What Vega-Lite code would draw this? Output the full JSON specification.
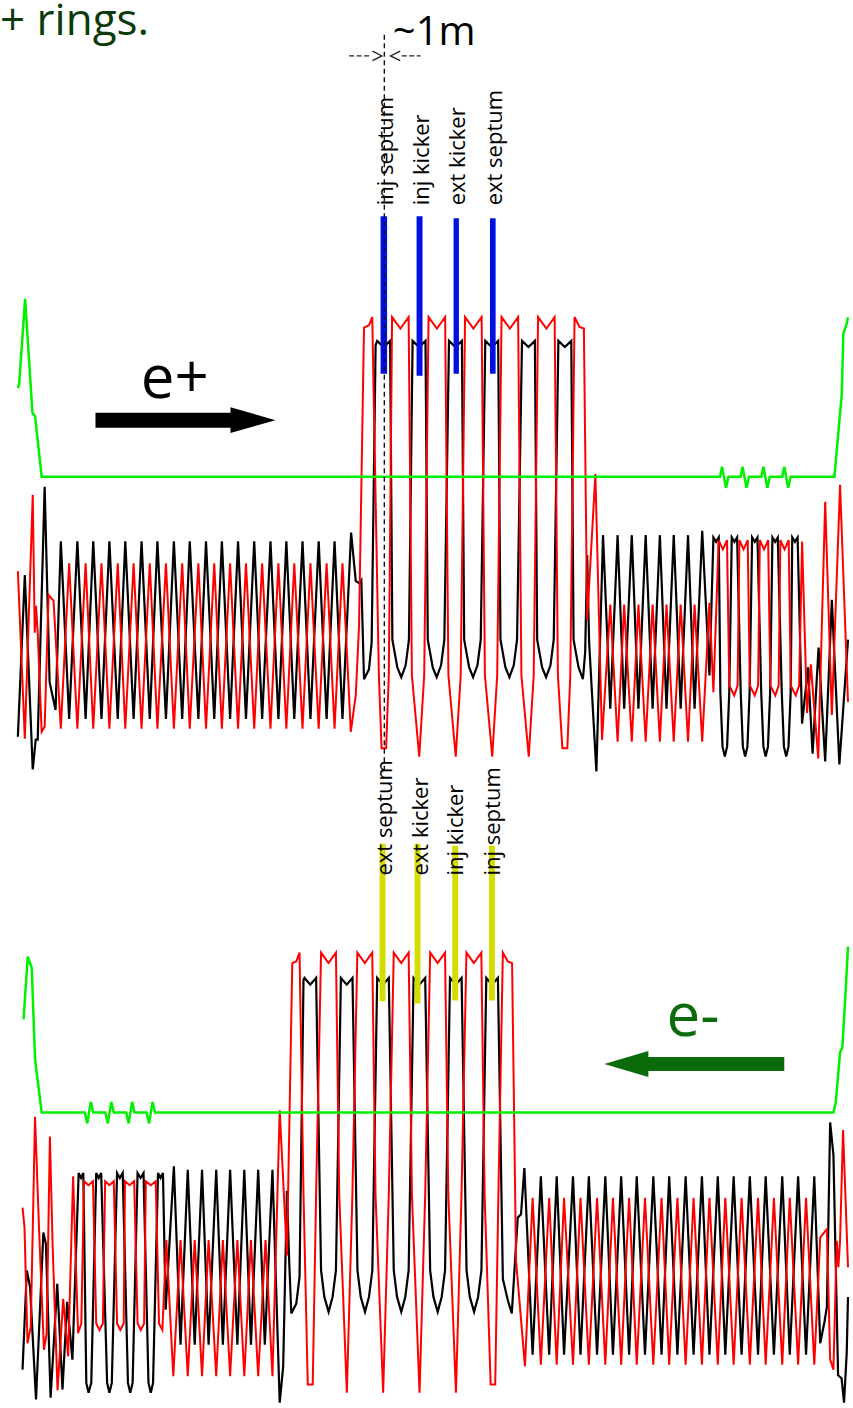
{
"$schema": "https://vega.github.io/schema/vega-lite/v6.json",
"width": 853, "height": 1408,
"autosize": {"type": "fit", "contains": "padding"},
"padding": 0,
"background": "white",
"config": {"view": {"stroke": null}},
"datasets": {
"blackP": [{"s":16,"v":735},{"s":23,"v":572},{"s":31,"v":768},{"s":34,"v":738},{"s":36,"v":738},{"s":43,"v":483},{"s":48,"v":680},{"s":54,"v":708},{"s":59.3,"v":538},{"s":67.7,"v":717},{"s":76,"v":538},{"s":84.3,"v":717},{"s":92,"v":538},{"s":100.3,"v":717},{"s":108.3,"v":538},{"s":116.7,"v":717},{"s":124.3,"v":538},{"s":132.7,"v":717},{"s":140.7,"v":538},{"s":149,"v":717},{"s":156.7,"v":538},{"s":165.3,"v":717},{"s":173.3,"v":538},{"s":181.7,"v":717},{"s":189.3,"v":538},{"s":198,"v":717},{"s":205.7,"v":538},{"s":214,"v":717},{"s":221.7,"v":538},{"s":230,"v":717},{"s":238,"v":538},{"s":246,"v":717},{"s":254.3,"v":538},{"s":262.3,"v":717},{"s":270.7,"v":538},{"s":278.7,"v":717},{"s":286.7,"v":538},{"s":294.7,"v":717},{"s":303,"v":538},{"s":311,"v":717},{"s":319.3,"v":538},{"s":327.3,"v":717},{"s":335.3,"v":538},{"s":343.3,"v":717},{"s":352,"v":529},{"s":356.7,"v":578},{"s":360,"v":580},{"s":362.3,"v":577},{"s":365,"v":677},{"s":370,"v":667},{"s":372.7,"v":640},{"s":376.7,"v":340},
{"s":378.3,"v":335.7},{"s":384.8,"v":342},{"s":391.3,"v":335.7},{"s":393.6,"v":637},{"s":398.6,"v":665},{"s":402.6,"v":675},{"s":407,"v":663},{"s":410.3,"v":637},
{"s":414,"v":335.7},{"s":420.5,"v":342},{"s":427,"v":335.7},{"s":429.3,"v":637},{"s":434.3,"v":665},{"s":438.3,"v":675},{"s":442.7,"v":663},{"s":446,"v":637},
{"s":450.7,"v":335.7},{"s":457.2,"v":342},{"s":463.7,"v":335.7},{"s":466,"v":637},{"s":471,"v":665},{"s":475,"v":675},{"s":479.4,"v":663},{"s":482.7,"v":637},
{"s":487.3,"v":335.7},{"s":493.8,"v":342},{"s":500.3,"v":335.7},{"s":502.6,"v":637},{"s":507.6,"v":665},{"s":511.6,"v":675},{"s":516,"v":663},{"s":519.3,"v":637},
{"s":524.3,"v":335.7},{"s":530.8,"v":342},{"s":537.3,"v":335.7},{"s":539.6,"v":637},{"s":544.6,"v":665},{"s":548.6,"v":675},{"s":553,"v":663},{"s":556.3,"v":637},
{"s":561,"v":335.7},{"s":567.5,"v":342},{"s":574,"v":335.7},{"s":576.3,"v":637},{"s":581.3,"v":665},{"s":585.7,"v":677},{"s":588,"v":650},{"s":590,"v":552},{"s":592,"v":640},{"s":599.3,"v":770},
{"s":606,"v":531.7},{"s":613.3,"v":706.7},{"s":620.7,"v":531.7},{"s":627.3,"v":706.7},{"s":635,"v":531.7},{"s":641.7,"v":706.7},{"s":649,"v":531.7},{"s":656,"v":706.7},{"s":663.3,"v":531.7},{"s":670,"v":706.7},{"s":677.3,"v":531.7},{"s":684.3,"v":706.7},{"s":691.7,"v":531.7},{"s":698.3,"v":706.7},{"s":706,"v":527.3},{"s":713.3,"v":673.3},
{"s":717.3,"v":534},{"s":720,"v":538.5},{"s":722.7,"v":534},{"s":724.3,"v":690},{"s":726.5,"v":745},{"s":728.8,"v":755},{"s":731.1,"v":745},{"s":733.3,"v":690},
{"s":735.8,"v":534},{"s":738.5,"v":538.5},{"s":741.2,"v":534},{"s":744.8,"v":690},{"s":747,"v":745},{"s":749.3,"v":755},{"s":751.6,"v":745},{"s":753.8,"v":690},
{"s":756.3,"v":534},{"s":759,"v":538.5},{"s":761.7,"v":534},{"s":765.5,"v":690},{"s":767.7,"v":745},{"s":770,"v":755},{"s":772.3,"v":745},{"s":774.5,"v":690},
{"s":776.8,"v":534},{"s":779.5,"v":538.5},{"s":782.2,"v":534},{"s":786.2,"v":690},{"s":788.4,"v":745},{"s":790.7,"v":755},{"s":793,"v":745},{"s":795.2,"v":690},
{"s":796.8,"v":534},{"s":799.5,"v":538.5},{"s":802.2,"v":534},{"s":806.7,"v":721.7},{"s":812.7,"v":665},{"s":817.3,"v":752},{"s":823.3,"v":645},{"s":830,"v":760},{"s":836.7,"v":597},{"s":844.3,"v":763},{"s":853,"v":637}],
"redP": [{"s":16,"v":568},{"s":23,"v":737},{"s":31,"v":491},{"s":33,"v":630},{"s":34.3,"v":603},{"s":36,"v":630},{"s":40,"v":730},{"s":43,"v":725},{"s":47,"v":592},{"s":52,"v":598},{"s":59.3,"v":727},{"s":67.7,"v":560},{"s":76,"v":727},{"s":84.3,"v":560},{"s":92,"v":727},{"s":100.3,"v":560},{"s":108.3,"v":727},{"s":116.7,"v":560},{"s":124.3,"v":727},{"s":132.7,"v":560},{"s":140.7,"v":727},{"s":149,"v":560},{"s":156.7,"v":727},{"s":165.3,"v":560},{"s":173.3,"v":727},{"s":181.7,"v":560},{"s":189.3,"v":727},{"s":198,"v":560},{"s":205.7,"v":727},{"s":214,"v":560},{"s":221.7,"v":727},{"s":230,"v":560},{"s":238,"v":727},{"s":246,"v":560},{"s":254.3,"v":727},{"s":262.3,"v":560},{"s":270.7,"v":727},{"s":278.7,"v":560},{"s":286.7,"v":727},{"s":294.7,"v":560},{"s":303,"v":727},{"s":311,"v":560},{"s":319.3,"v":727},{"s":327.3,"v":560},{"s":335.3,"v":727},{"s":343.3,"v":560},{"s":351.7,"v":730},{"s":356.7,"v":693},{"s":360,"v":623},{"s":365,"v":322.3},{"s":370,"v":320},{"s":373.3,"v":311.7},{"s":380,"v":673},{"s":382.7,"v":746.7},{"s":387.3,"v":746.7},{"s":390,"v":673},
{"s":393.3,"v":311.7},{"s":401.7,"v":323.3},{"s":410,"v":311.7},{"s":413.3,"v":673},{"s":420.7,"v":755},{"s":425.7,"v":673},
{"s":430.1,"v":311.7},{"s":438.5,"v":323.3},{"s":446.8,"v":311.7},{"s":450.1,"v":673},{"s":457.5,"v":755},{"s":462.5,"v":673},
{"s":466.9,"v":311.7},{"s":475.3,"v":323.3},{"s":483.6,"v":311.7},{"s":486.9,"v":673},{"s":494.3,"v":755},{"s":499.3,"v":673},
{"s":503.7,"v":311.7},{"s":512.1,"v":323.3},{"s":520.4,"v":311.7},{"s":523.7,"v":673},{"s":531.1,"v":755},{"s":536.1,"v":673},
{"s":540.5,"v":311.7},{"s":548.9,"v":323.3},{"s":557.2,"v":311.7},{"s":560.5,"v":673},{"s":565,"v":746.7},{"s":570,"v":746.7},{"s":573,"v":673},{"s":577.3,"v":311.7},{"s":582.3,"v":321.7},{"s":586.7,"v":323.3},{"s":590,"v":618},{"s":598.3,"v":470},{"s":605,"v":738.3},
{"s":613.3,"v":601.7},{"s":620.7,"v":740},{"s":627.3,"v":601.7},{"s":635,"v":740},{"s":641.7,"v":601.7},{"s":649,"v":740},{"s":656,"v":601.7},{"s":663.3,"v":740},{"s":670,"v":601.7},{"s":677.3,"v":740},{"s":684.3,"v":601.7},{"s":691.7,"v":740},{"s":698.3,"v":601.7},{"s":706,"v":740},{"s":713.3,"v":600},{"s":717.3,"v":690},
{"s":722.6,"v":536.7},{"s":726.8,"v":546},{"s":731,"v":536.7},{"s":733.3,"v":683.3},{"s":738.3,"v":693.3},{"s":741.7,"v":683.3},
{"s":743.5,"v":536.7},{"s":747.7,"v":546},{"s":751.9,"v":536.7},{"s":754,"v":683.3},{"s":759,"v":693.3},{"s":762.4,"v":683.3},
{"s":764.1,"v":536.7},{"s":768.3,"v":546},{"s":772.5,"v":536.7},{"s":774.7,"v":683.3},{"s":779.7,"v":693.3},{"s":783.1,"v":683.3},
{"s":784.8,"v":536.7},{"s":789,"v":546},{"s":793.2,"v":536.7},{"s":795.3,"v":683.3},{"s":800.3,"v":693.3},{"s":803.7,"v":683.3},
{"s":806.7,"v":538},{"s":811.7,"v":711},{"s":815.5,"v":662},{"s":823,"v":757},{"s":830,"v":498},{"s":836.7,"v":713},{"s":845,"v":481},{"s":853,"v":700}],
"greenP": [{"s":16,"v":383.3},{"s":17.3,"v":379},{"s":23.3,"v":293.3},{"s":30.7,"v":408.3},{"s":33.3,"v":411.7},{"s":40,"v":472.7},{"s":724,"v":472.7},{"s":726,"v":462.7},{"s":730,"v":484},{"s":732.5,"v":472.7},{"s":744.7,"v":472.7},{"s":746.7,"v":462.7},{"s":750.7,"v":484},{"s":753.2,"v":472.7},{"s":765.7,"v":472.7},{"s":767.7,"v":462.7},{"s":771.7,"v":484},{"s":774.2,"v":472.7},{"s":786.7,"v":472.7},{"s":788.7,"v":462.7},{"s":792.7,"v":484},{"s":795.2,"v":472.7},{"s":839.3,"v":472.7},{"s":844,"v":420},{"s":846.7,"v":390},{"s":848.3,"v":328.3},{"s":851.7,"v":318.3},{"s":853,"v":312}],
"blackM": [{"s":20.7,"v":1373.3},{"s":25,"v":1273.3},{"s":28.3,"v":1290},{"s":34.3,"v":1403.3},{"s":41.7,"v":1235},{"s":44.3,"v":1246.7},{"s":49,"v":1401.7},{"s":55.7,"v":1286.7},{"s":61,"v":1393.3},{"s":65.7,"v":1305},{"s":71,"v":1363.3},{"s":77.3,"v":1175},{"s":79.7,"v":1180},{"s":82,"v":1175},{"s":85,"v":1386.7},{"s":87.3,"v":1396.7},{"s":90,"v":1386.7},{"s":95,"v":1175},{"s":97.5,"v":1180},{"s":100,"v":1175},{"s":106,"v":1386.7},{"s":108.3,"v":1396.7},{"s":110.7,"v":1386.7},{"s":116,"v":1175},{"s":118.8,"v":1180},{"s":121.7,"v":1175},{"s":127,"v":1386.7},{"s":129.3,"v":1396.7},{"s":131.7,"v":1386.7},{"s":136.7,"v":1175},{"s":139.7,"v":1180},{"s":142.7,"v":1175},{"s":147.7,"v":1386.7},{"s":150,"v":1396.7},{"s":152.3,"v":1386.7},{"s":157.3,"v":1175},{"s":159.8,"v":1180},{"s":162.3,"v":1175},{"s":165,"v":1313},{"s":173.3,"v":1168.3},{"s":180,"v":1348.3},{"s":187.3,"v":1171.7},{"s":194.3,"v":1348.3},{"s":201.7,"v":1171.7},{"s":208.3,"v":1348.3},{"s":216,"v":1171.7},{"s":222.7,"v":1348.3},{"s":230,"v":1171.7},{"s":237.3,"v":1348.3},{"s":244.3,"v":1171.7},{"s":251,"v":1348.3},{"s":258.3,"v":1171.7},{"s":265,"v":1348.3},{"s":272.7,"v":1171.7},{"s":280,"v":1406.7},{"s":283.5,"v":1370},{"s":287.3,"v":1193},{"s":289.5,"v":1262},{"s":291.7,"v":1316.7},{"s":296.7,"v":1306.7},{"s":300,"v":1280},{"s":304,"v":980},
{"s":305,"v":978.3},{"s":310.8,"v":985},{"s":316.7,"v":978.3},{"s":321.7,"v":1273.3},{"s":325,"v":1300},{"s":329.3,"v":1315},{"s":333.3,"v":1300},{"s":336.7,"v":1273.3},
{"s":341.7,"v":978.3},{"s":347.5,"v":985},{"s":353.4,"v":978.3},{"s":358.4,"v":1273.3},{"s":361.7,"v":1300},{"s":366,"v":1315},{"s":370,"v":1300},{"s":373.4,"v":1273.3},
{"s":378.3,"v":978.3},{"s":384.1,"v":985},{"s":390,"v":978.3},{"s":395,"v":1273.3},{"s":398.3,"v":1300},{"s":402.6,"v":1315},{"s":406.6,"v":1300},{"s":410,"v":1273.3},
{"s":415,"v":978.3},{"s":420.8,"v":985},{"s":426.7,"v":978.3},{"s":431.7,"v":1273.3},{"s":435,"v":1300},{"s":439.3,"v":1315},{"s":443.3,"v":1300},{"s":446.7,"v":1273.3},
{"s":451.7,"v":978.3},{"s":457.5,"v":985},{"s":463.4,"v":978.3},{"s":468.4,"v":1273.3},{"s":471.7,"v":1300},{"s":476,"v":1315},{"s":480,"v":1300},{"s":483.4,"v":1273.3},
{"s":488.3,"v":978.3},{"s":494.1,"v":985},{"s":500,"v":978.3},{"s":505,"v":1281.7},{"s":510,"v":1303.3},{"s":514,"v":1316.7},{"s":520,"v":1220},{"s":523.3,"v":1216.7},{"s":526.7,"v":1170},
{"s":535,"v":1358.3},{"s":543.3,"v":1178.3},{"s":551.7,"v":1358.3},{"s":559.3,"v":1178.3},{"s":566.7,"v":1358.3},{"s":575.7,"v":1178.3},{"s":583.3,"v":1358.3},{"s":591.7,"v":1178.3},{"s":600,"v":1358.3},{"s":608.3,"v":1178.3},{"s":616,"v":1358.3},{"s":624.3,"v":1178.3},{"s":632.3,"v":1358.3},{"s":640,"v":1178.3},{"s":648.3,"v":1358.3},{"s":656.7,"v":1178.3},{"s":665,"v":1358.3},{"s":672.7,"v":1178.3},{"s":681,"v":1358.3},{"s":689.3,"v":1178.3},{"s":697.3,"v":1358.3},{"s":705.7,"v":1178.3},{"s":713.3,"v":1358.3},{"s":721.7,"v":1178.3},{"s":729.3,"v":1358.3},{"s":737.7,"v":1178.3},{"s":745.7,"v":1358.3},{"s":754,"v":1178.3},{"s":762.3,"v":1358.3},{"s":770,"v":1178.3},{"s":778.3,"v":1358.3},{"s":786.7,"v":1178.3},{"s":794.3,"v":1358.3},{"s":802.7,"v":1178.3},{"s":810.7,"v":1358.3},{"s":819,"v":1178.3},{"s":825,"v":1346.7},{"s":829.3,"v":1325},{"s":831.7,"v":1310},{"s":835,"v":1124},{"s":838.3,"v":1156.7},{"s":843,"v":1379},{"s":846.5,"v":1382},{"s":849,"v":1406.7},{"s":851.7,"v":1356.7},{"s":853,"v":1300}],
"redM": [{"s":20.7,"v":1210},{"s":22.7,"v":1230},{"s":25.7,"v":1346.7},{"s":29,"v":1330},{"s":33.3,"v":1118.3},{"s":37.3,"v":1230},{"s":42.3,"v":1353.3},{"s":45,"v":1336.7},{"s":48.3,"v":1138.3},{"s":51,"v":1246.7},{"s":56,"v":1394},{"s":61.7,"v":1302},{"s":66.7,"v":1360},{"s":71.7,"v":1178.3},{"s":76.7,"v":1336.7},{"s":80,"v":1326.7},{"s":82.7,"v":1183.3},{"s":87.2,"v":1187.3},{"s":91.7,"v":1183.3},{"s":95,"v":1326.7},{"s":98.3,"v":1333.3},{"s":101.7,"v":1326.7},{"s":104,"v":1183.3},{"s":108.3,"v":1187.3},{"s":112.7,"v":1183.3},{"s":116,"v":1326.7},{"s":119.3,"v":1333.3},{"s":122.7,"v":1326.7},{"s":124,"v":1183.3},{"s":128.7,"v":1187.3},{"s":133.3,"v":1183.3},{"s":136.7,"v":1326.7},{"s":140,"v":1333.3},{"s":143.3,"v":1326.7},{"s":145,"v":1183.3},{"s":150,"v":1187.3},{"s":155,"v":1183.3},{"s":158.3,"v":1326.7},{"s":161.7,"v":1333.3},{"s":165.7,"v":1242.7},{"s":172.7,"v":1380},{"s":180,"v":1242.7},{"s":187.3,"v":1380},{"s":194.3,"v":1242.7},{"s":201.7,"v":1380},{"s":208.3,"v":1242.7},{"s":216,"v":1380},{"s":222.7,"v":1242.7},{"s":230,"v":1380},{"s":237.3,"v":1242.7},{"s":244.3,"v":1380},{"s":251,"v":1242.7},{"s":258.3,"v":1380},{"s":265.7,"v":1242.7},{"s":272.7,"v":1380},{"s":280,"v":1111.7},{"s":287.3,"v":1258.3},{"s":292.7,"v":963.3},{"s":296.7,"v":961.7},{"s":300,"v":952.7},{"s":304,"v":1196.7},{"s":308.3,"v":1388.3},{"s":313.3,"v":1388.3},{"s":316.7,"v":1196.7},
{"s":321.7,"v":952.7},{"s":329.2,"v":963.3},{"s":336.7,"v":952.7},{"s":340,"v":1196.7},{"s":347.7,"v":1396.7},{"s":353.3,"v":1196.7},
{"s":358.3,"v":952.7},{"s":365.8,"v":963.3},{"s":373.3,"v":952.7},{"s":376.6,"v":1196.7},{"s":384.3,"v":1396.7},{"s":390,"v":1196.7},
{"s":395,"v":952.7},{"s":402.5,"v":963.3},{"s":410,"v":952.7},{"s":413.3,"v":1196.7},{"s":421,"v":1396.7},{"s":426.7,"v":1196.7},
{"s":431.7,"v":952.7},{"s":439.2,"v":963.3},{"s":446.7,"v":952.7},{"s":450,"v":1196.7},{"s":457.7,"v":1396.7},{"s":463.3,"v":1196.7},
{"s":468.3,"v":952.7},{"s":475.8,"v":963.3},{"s":483.3,"v":952.7},{"s":486.6,"v":1196.7},{"s":492.7,"v":1388.3},{"s":497.3,"v":1388.3},{"s":500.5,"v":1196.7},{"s":505,"v":952.7},{"s":510,"v":961.7},{"s":514.3,"v":963.3},{"s":518.3,"v":1263.3},{"s":527.3,"v":1370},
{"s":535,"v":1200},{"s":543.3,"v":1368.3},{"s":551.7,"v":1200},{"s":559.3,"v":1368.3},{"s":566.7,"v":1200},{"s":575.7,"v":1368.3},{"s":583.3,"v":1200},{"s":591.7,"v":1368.3},{"s":600,"v":1200},{"s":608.3,"v":1368.3},{"s":616,"v":1200},{"s":624.3,"v":1368.3},{"s":632.3,"v":1200},{"s":640,"v":1368.3},{"s":648.3,"v":1200},{"s":656.7,"v":1368.3},{"s":665,"v":1200},{"s":672.7,"v":1368.3},{"s":681,"v":1200},{"s":689.3,"v":1368.3},{"s":697.3,"v":1200},{"s":705.7,"v":1368.3},{"s":713.3,"v":1200},{"s":721.7,"v":1368.3},{"s":729.3,"v":1200},{"s":737.7,"v":1368.3},{"s":745.7,"v":1200},{"s":754,"v":1368.3},{"s":762.3,"v":1200},{"s":770,"v":1368.3},{"s":778.3,"v":1200},{"s":786.7,"v":1368.3},{"s":794.3,"v":1200},{"s":802.7,"v":1368.3},{"s":810.7,"v":1200},{"s":819,"v":1368.3},{"s":825,"v":1240},{"s":831.7,"v":1231.7},{"s":835,"v":1363.3},{"s":838.3,"v":1373.3},{"s":841.7,"v":1243.3},{"s":843.3,"v":1270},{"s":845,"v":1243.3},{"s":848,"v":1131.7},{"s":853,"v":1270}],
"greenM": [{"s":21.7,"v":1020},{"s":26,"v":956.7},{"s":30,"v":968.3},{"s":33.3,"v":1060},{"s":40,"v":1114},{"s":83.5,"v":1114},{"s":86,"v":1125},{"s":89.5,"v":1103.3},{"s":92,"v":1114},{"s":104.2,"v":1114},{"s":106.7,"v":1125},{"s":110.2,"v":1103.3},{"s":112.7,"v":1114},{"s":125.2,"v":1114},{"s":127.7,"v":1125},{"s":131.2,"v":1103.3},{"s":133.7,"v":1114},{"s":145.8,"v":1114},{"s":148.3,"v":1125},{"s":151.8,"v":1103.3},{"s":154.3,"v":1114},{"s":838.3,"v":1114},{"s":840.7,"v":1103.3},{"s":845,"v":1053.3},{"s":847.3,"v":1048.3},{"s":850.7,"v":990},{"s":853,"v":946.7}],
"blue": [{"s":381.7,"s2":388.3,"v":210,"v2":369},{"s":418,"s2":424,"v":210,"v2":371},{"s":455.3,"s2":460.7,"v":212,"v2":369},{"s":492,"s2":497.7,"v":212,"v2":369}],
"yellow": [{"s":380.7,"s2":386.7,"v":843,"v2":1001.7},{"s":416,"s2":422,"v":843,"v2":1004},{"s":454,"s2":460,"v":845,"v2":1001},{"s":491,"s2":497,"v":845,"v2":1001}],
"vdash": [{"s":385.5,"v":27,"v2":768}],
"hdash": [{"s":350,"v":48.3,"g":"a"},{"s":372,"v":48.3,"g":"a"},{"s":403,"v":48.3,"g":"b"},{"s":422,"v":48.3,"g":"b"}],
"chev": [{"s":373.5,"v":43.5,"g":"a"},{"s":383,"v":48.3,"g":"a"},{"s":373.5,"v":53,"g":"a"},{"s":401.5,"v":43.5,"g":"b"},{"s":391.7,"v":48.3,"g":"b"},{"s":401.5,"v":53,"g":"b"}],
"toplab": [{"s":387,"v":199,"t":"inj septum"},{"s":423,"v":199,"t":"inj kicker"},{"s":460,"v":199,"t":"ext kicker"},{"s":497,"v":199,"t":"ext septum"}],
"botlab": [{"s":386,"v":875,"t":"ext septum"},{"s":422,"v":875,"t":"ext kicker"},{"s":458,"v":875,"t":"inj kicker"},{"s":495,"v":875,"t":"inj septum"}],
"title": [{"s":-2,"v":27,"t":"+ rings."}],
"meter": [{"s":394,"v":37,"t":"~1m"}],
"eplus": [{"s":140,"v":393,"t":"e+"}],
"eminus": [{"s":670,"v":1037,"t":"e-"}],
"arrowP": [{"s":185,"v":415.7}],
"arrowM": [{"s":698,"v":1065}]
},
"encoding": {
"x": {"field": "s", "type": "quantitative", "scale": {"domain": [0, 853], "nice": false, "zero": false}, "axis": null},
"y": {"field": "v", "type": "quantitative", "scale": {"domain": [0, 1408], "nice": false, "zero": false, "reverse": true}, "axis": null}
},
"layer": [
{"data": {"name": "blackP"}, "mark": {"type": "line", "color": "#000000", "strokeWidth": 2.2}, "encoding": {"order": {"value": null}}},
{"data": {"name": "blackM"}, "mark": {"type": "line", "color": "#000000", "strokeWidth": 2.2}, "encoding": {"order": {"value": null}}},
{"data": {"name": "redP"}, "mark": {"type": "line", "color": "#ff0000", "strokeWidth": 2}, "encoding": {"order": {"value": null}}},
{"data": {"name": "redM"}, "mark": {"type": "line", "color": "#ff0000", "strokeWidth": 2}, "encoding": {"order": {"value": null}}},
{"data": {"name": "greenP"}, "mark": {"type": "line", "color": "#00f000", "strokeWidth": 2.5}, "encoding": {"order": {"value": null}}},
{"data": {"name": "greenM"}, "mark": {"type": "line", "color": "#00f000", "strokeWidth": 2.5}, "encoding": {"order": {"value": null}}},
{"data": {"name": "blue"}, "mark": {"type": "rect", "color": "#0010e0"}, "encoding": {"x2": {"field": "s2"}, "y2": {"field": "v2"}}},
{"data": {"name": "yellow"}, "mark": {"type": "rect", "color": "#d4dd00"}, "encoding": {"x2": {"field": "s2"}, "y2": {"field": "v2"}}},
{"data": {"name": "vdash"}, "mark": {"type": "rule", "color": "#111111", "strokeWidth": 1.4, "strokeDash": [5, 3.5]}, "encoding": {"y2": {"field": "v2"}}},
{"data": {"name": "hdash"}, "mark": {"type": "line", "color": "#222222", "strokeWidth": 1.3, "strokeDash": [5, 2.5]}, "encoding": {"detail": {"field": "g"}, "order": {"value": null}}},
{"data": {"name": "chev"}, "mark": {"type": "line", "color": "#222222", "strokeWidth": 1.3}, "encoding": {"detail": {"field": "g"}, "order": {"value": null}}},
{"data": {"name": "toplab"}, "mark": {"type": "text", "angle": 270, "align": "left", "baseline": "middle", "fontSize": 22, "font": "Open Sans", "color": "#000000"}, "encoding": {"text": {"field": "t"}}},
{"data": {"name": "botlab"}, "mark": {"type": "text", "angle": 270, "align": "left", "baseline": "middle", "fontSize": 22, "font": "Open Sans", "color": "#000000"}, "encoding": {"text": {"field": "t"}}},
{"data": {"name": "title"}, "mark": {"type": "text", "align": "left", "baseline": "alphabetic", "fontSize": 44, "font": "Open Sans", "color": "#0b3b0b"}, "encoding": {"text": {"field": "t"}}},
{"data": {"name": "meter"}, "mark": {"type": "text", "align": "left", "baseline": "alphabetic", "fontSize": 40, "font": "Open Sans", "color": "#000000"}, "encoding": {"text": {"field": "t"}}},
{"data": {"name": "eplus"}, "mark": {"type": "text", "align": "left", "baseline": "alphabetic", "fontSize": 60, "font": "Open Sans", "color": "#000000"}, "encoding": {"text": {"field": "t"}}},
{"data": {"name": "eminus"}, "mark": {"type": "text", "align": "left", "baseline": "alphabetic", "fontSize": 60, "font": "Open Sans", "color": "#0a6b0a"}, "encoding": {"text": {"field": "t"}}},
{"data": {"name": "arrowP"}, "mark": {"type": "point", "shape": "M -1 -0.083 L 0.5 -0.083 L 0.5 -0.144 L 1 0 L 0.5 0.144 L 0.5 0.083 L -1 0.083 Z", "size": 32400, "filled": true, "color": "#000000", "opacity": 1, "strokeWidth": 0}},
{"data": {"name": "arrowM"}, "mark": {"type": "point", "shape": "M 1 -0.078 L -0.51 -0.078 L -0.51 -0.144 L -1 0 L -0.51 0.144 L -0.51 0.078 L 1 0.078 Z", "size": 32400, "filled": true, "color": "#0a6b0a", "opacity": 1, "strokeWidth": 0}}
]
}
